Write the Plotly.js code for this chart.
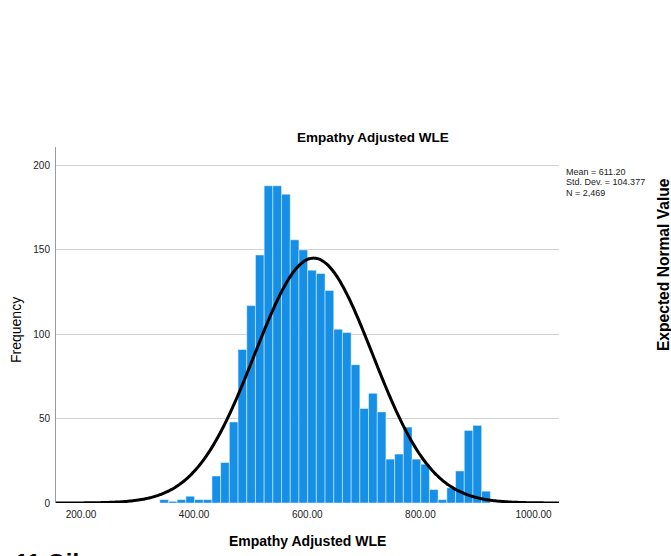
<!DOCTYPE html>
<html>
<head>
<meta charset="utf-8">
<script src="https://cdn.plot.ly/plotly-3.0.1.min.js"></script>
<style>html,body{margin:0;padding:0;background:#fff;}#chart{width:671px;height:556px;}</style>
</head>
<body>
<div id="chart"></div>
<script>
// Histogram bins
var binStart = 339.2;
var binWidth = 15.38;
var counts = [2, 1, 2, 4, 2, 2, 16, 24, 48, 91, 117, 147, 188, 188, 183, 156, 150, 138, 136, 126,
              103, 101, 82, 56, 65, 54, 26, 29, 45, 26, 23, 8, 2, 9, 19, 43, 46, 7];
// Summary statistics shown on the chart
var statMean = 611.20;
var statSD = 104.377;
var statN = 2469;
var statLabels = ["Mean = 611.20", "Std. Dev. = 104.377", "N = 2,469"];
// Axis ticks
var xTickVals = [200, 400, 600, 800, 1000];
var xTickText = ["200.00", "400.00", "600.00", "800.00", "1000.00"];
var yTickVals = [0, 50, 100, 150, 200];
var xRange = [155.8, 1045];
var yRange = [0, 211];

var binCenters = counts.map(function (c, i) { return binStart + binWidth * (i + 0.5); });

// Normal curve implied by mean, SD and N (scaled to bin width)
var curveX = [], curveY = [];
var steps = 300;
for (var k = 0; k <= steps; k++) {
  var xv = xRange[0] + (xRange[1] - xRange[0]) * k / steps;
  var z = (xv - statMean) / statSD;
  curveX.push(xv);
  curveY.push(statN * binWidth * Math.exp(-0.5 * z * z) / (statSD * Math.sqrt(2 * Math.PI)));
}

var FONT = "Liberation Sans, Arial, Helvetica, sans-serif";

var traces = [
  {
    type: "bar", x: binCenters, y: counts, width: binWidth,
    marker: { color: "#1590e6", line: { color: "rgba(255,255,255,0.45)", width: 1 } },
    hoverinfo: "x+y", showlegend: false
  },
  {
    type: "scatter", mode: "lines", x: curveX, y: curveY,
    line: { color: "#000", width: 3, shape: "spline" },
    hoverinfo: "skip", showlegend: false
  }
];

var annotations = [
  { text: "Empathy Adjusted WLE", xref: "paper", yref: "paper", x: 0.5, y: -0.1067,
    xanchor: "center", yanchor: "middle", showarrow: false,
    font: { family: FONT, size: 14, color: "#000", weight: "bold" } },
  { text: "Frequency", xref: "paper", yref: "paper", x: -0.0795, y: 0.486,
    xanchor: "center", yanchor: "middle", showarrow: false, textangle: -90,
    font: { family: FONT, size: 14, color: "#000" } },
  { text: "Expected Normal Value", xref: "paper", yref: "paper", x: 1.2068, y: 0.6685,
    xanchor: "center", yanchor: "middle", showarrow: false, textangle: -90,
    font: { family: FONT, size: 15.6, color: "#000", weight: "bold" } },
  { text: "11 Oil", xref: "paper", yref: "paper", x: -0.0855, y: -0.1236,
    xanchor: "left", yanchor: "top", showarrow: false,
    font: { family: FONT, size: 24, color: "#000", weight: "bold" } }
];
var statY = [0.9298, 0.9003, 0.8708];
statLabels.forEach(function (s, i) {
  annotations.push({ text: s, xref: "paper", yref: "paper", x: 1.0105, y: statY[i],
    xanchor: "left", yanchor: "middle", showarrow: false,
    font: { family: FONT, size: 9, color: "#222" } });
});

var layout = {
  width: 671, height: 556,
  margin: { l: 56, r: 112, t: 147, b: 53 },
  paper_bgcolor: "#fff", plot_bgcolor: "#fff",
  font: { family: FONT, color: "#222" },
  title: { text: "Empathy Adjusted WLE", xref: "paper", x: 0.63, xanchor: "center",
           yref: "container", y: 1 - 137 / 556, yanchor: "middle",
           font: { family: FONT, size: 13.5, color: "#000", weight: "bold" } },
  bargap: 0,
  xaxis: { range: xRange, tickvals: xTickVals, ticktext: xTickText, showgrid: false,
           zeroline: false, showline: false, ticks: "", ticklabelstandoff: 4,
           tickfont: { size: 10, color: "#222" }, fixedrange: true },
  yaxis: { range: yRange, tickvals: yTickVals, showgrid: true, gridcolor: "#d2d2d2",
           zeroline: false, showline: true, linecolor: "#9a9a9a", linewidth: 1, ticks: "",
           ticklabelstandoff: 3, tickfont: { size: 10, color: "#222" }, fixedrange: true },
  annotations: annotations
};

Plotly.newPlot("chart", traces, layout, { displayModeBar: false, staticPlot: true });
</script>
</body>
</html>
